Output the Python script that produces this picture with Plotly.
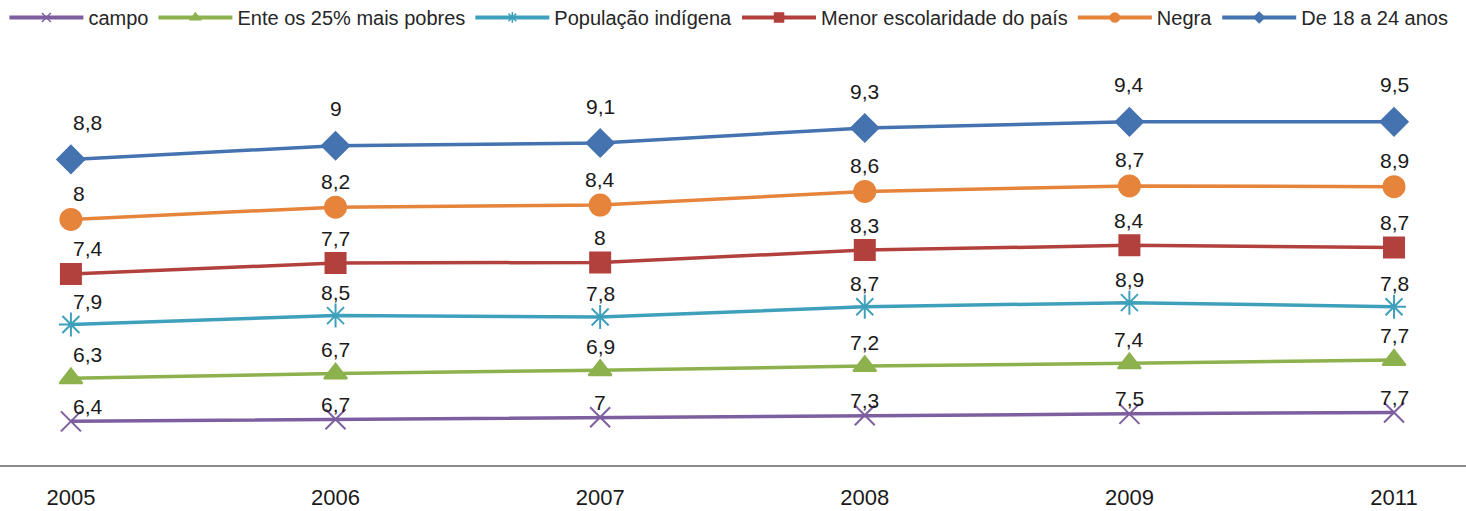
import numpy as np
import plotly.graph_objects as go

years = ["2005", "2006", "2007", "2008", "2009", "2011"]

campo = [6.4, 6.7, 7.0, 7.3, 7.5, 7.7]
ente_25 = [6.3, 6.7, 6.9, 7.2, 7.4, 7.7]
pop_indigena = [7.9, 8.5, 7.8, 8.7, 8.9, 7.8]
menor_escolaridade = [7.4, 7.7, 8.0, 8.3, 8.4, 8.7]
negra = [8.0, 8.2, 8.4, 8.6, 8.7, 8.9]
de_18_24 = [8.8, 9.0, 9.1, 9.3, 9.4, 9.5]

series_names = ["campo", "Ente os 25% mais pobres", "População indígena",
                "Menor escolaridade do país", "Negra", "De 18 a 24 anos"]
series_values = [campo, ente_25, pop_indigena, menor_escolaridade, negra, de_18_24]

styles = [
    dict(color="#7D5FA0", symbol="x-thin-open", size=20, lsize=9, yshift=15),
    dict(color="#8DB14D", symbol="triangle-up", size=20, lsize=9, yshift=24),
    dict(color="#3FA0BC", symbol="asterisk-open", size=20, lsize=9, yshift=23),
    dict(color="#B2403D", symbol="square", size=20, lsize=9, yshift=25),
    dict(color="#E5843A", symbol="circle", size=21, lsize=9, yshift=26),
    dict(color="#4473B0", symbol="diamond", size=21, lsize=8, yshift=37),
]

def fmt(v):
    s = ("%g" % v)
    return s.replace(".", ",")

x = list(range(len(years)))
cum = np.cumsum(np.array(series_values), axis=0)

FONT = "Liberation Sans, Arial, sans-serif"

fig = go.Figure()
annotations = []
for name, vals, c, st in zip(series_names, series_values, cum, styles):
    fig.add_trace(go.Scatter(
        x=x, y=c, name=name, mode="lines+markers", showlegend=False,
        line=dict(color=st["color"], width=3.5),
        marker=dict(symbol=st["symbol"], size=st["size"], color=st["color"],
                    line=dict(color=st["color"], width=2)),
        hoverinfo="skip",
    ))
    # legend entry with small marker, as in the original legend
    fig.add_trace(go.Scatter(
        x=[None], y=[None], name=name, mode="lines+markers", showlegend=True,
        line=dict(color=st["color"], width=4),
        marker=dict(symbol=st["symbol"], size=st["lsize"], color=st["color"],
                    line=dict(color=st["color"], width=1.5)),
        hoverinfo="skip",
    ))
    for i, (xi, yi, v) in enumerate(zip(x, c, vals)):
        annotations.append(dict(
            x=xi, y=yi, text=fmt(v), showarrow=False,
            xanchor="left" if i == 0 else "center", yanchor="middle",
            xshift=0, yshift=st["yshift"],
            font=dict(family=FONT, size=21, color="#1a1a1a"),
        ))

fig.update_layout(
    width=1466, height=511,
    margin=dict(l=0, r=0, t=40, b=46, autoexpand=False),
    paper_bgcolor="white", plot_bgcolor="white",
    showlegend=True,
    legend=dict(orientation="h", x=0.003, xanchor="left", yref="paper", y=1.099, yanchor="top",
                font=dict(family=FONT, size=20, color="#262626"),
                itemwidth=74, tracegroupgap=0),
    annotations=annotations,
    xaxis=dict(range=[-0.268, 5.272], tickmode="array", tickvals=x, ticktext=years,
               showgrid=False, zeroline=False, showline=True, linecolor="#8a8a8a", linewidth=1.5,
               ticks="outside", ticklen=12, tickcolor="rgba(0,0,0,0)", automargin=False,
               tickfont=dict(family=FONT, size=22, color="#1a1a1a")),
    yaxis=dict(range=[0, 62.3], visible=False, showgrid=False, zeroline=False, automargin=False),
)

fig.write_html("out.html", config={"displayModeBar": False},
               post_script="document.body.style.margin='0';")
